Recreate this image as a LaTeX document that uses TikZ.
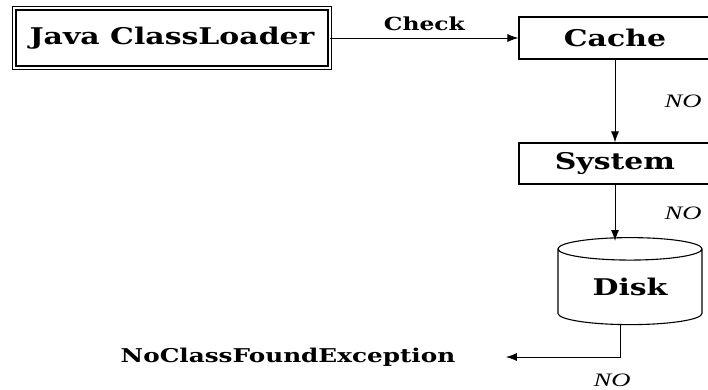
\documentclass[tikz,border=0pt]{standalone}
\usepackage{fontspec}
\setmainfont{DejaVu Serif}[BoldFeatures={FakeStretch=1.3}]
\newfontfamily\nofont{Liberation Serif}[ItalicFeatures={FakeStretch=1.4}]
\usetikzlibrary{arrows.meta,shapes.geometric}
\tikzset{
  box/.style={draw,line width=1.1pt,font=\bfseries\fontsize{23}{25}\selectfont,inner sep=0pt},
  lbl/.style={font=\bfseries\fontsize{18}{20}\selectfont},
  no/.style={font=\nofont\itshape\fontsize{19}{21}\selectfont},
  arr/.style={-{Latex[length=11pt,width=8pt]},line width=1pt}
}
\begin{document}
\begin{tikzpicture}[x=1pt,y=-1pt]
  \useasboundingbox (0,0) rectangle (708,389);
  \node[box,double,line width=1.3pt,double distance=2pt,minimum width=315.5pt,minimum height=59.5pt] (java) at (172,38) {Java ClassLoader};
  \node[box,minimum width=192pt,minimum height=42pt] (cache) at (615,38) {Cache};
  \node[box,minimum width=192pt,minimum height=41pt] (system) at (615,163.5) {System};
  \node[box,cylinder,shape border rotate=90,aspect=0.3,minimum width=144pt,minimum height=87pt] (disk) at (630,287) {Disk};
  \node[lbl,font=\bfseries\fontsize{19}{21}\selectfont] (exc) at (288,357) {NoClassFoundException};
  % connectors
  \draw[arr] (java) -- node[lbl,above=3pt] (chk) {Check} (cache);
  \draw[arr] (cache) -- node[no,xshift=68pt] (no1) {NO} (system);
  \draw[arr] (system) -- node[no,xshift=68pt] (no2) {NO} ([yshift=-4pt]system |- disk.north);
  \draw[arr] ([xshift=-10pt]disk.south) |- node[no,pos=.5,xshift=-8pt,yshift=-23pt] (no3) {NO} ([xshift=47pt]exc.east);
\end{tikzpicture}
\end{document}
